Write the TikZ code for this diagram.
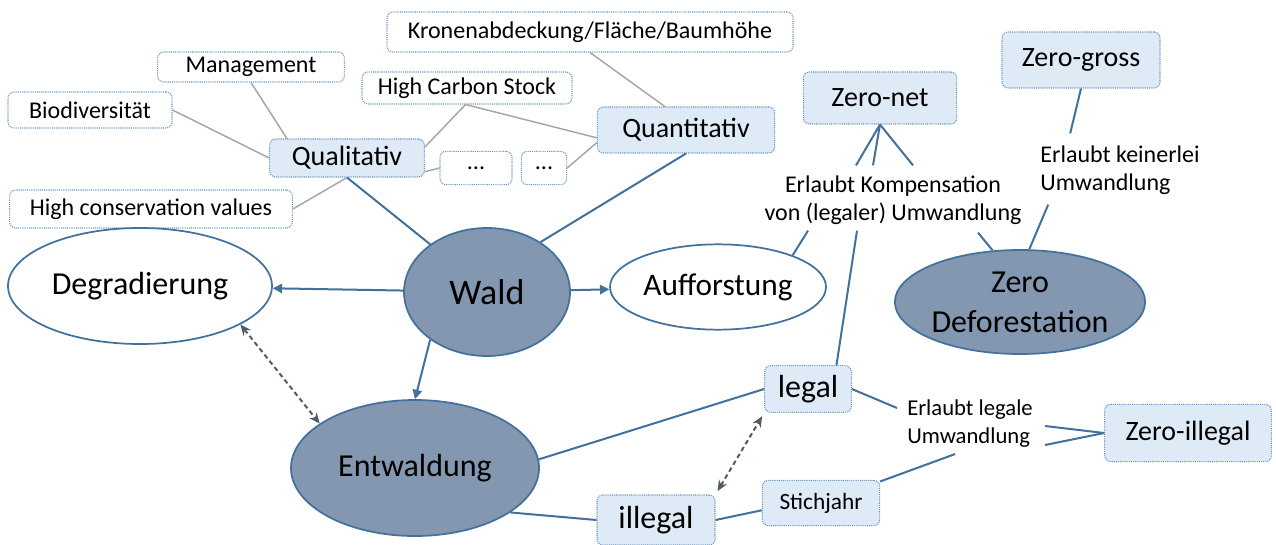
\documentclass[tikz,border=0pt]{standalone}
\usepackage{fontspec}
\setmainfont{Carlito}
\usetikzlibrary{arrows.meta,shapes.geometric,calc}
\definecolor{edgeblue}{HTML}{41719C}
\definecolor{darkfill}{HTML}{8497B0}
\definecolor{lightfill}{HTML}{DEEBF7}
\definecolor{dotblue}{HTML}{6A93C0}
\definecolor{graylink}{HTML}{A6A6A6}
\definecolor{dashgray}{HTML}{505A66}
\tikzset{
  box/.style={draw=dotblue, line width=0.8pt, dash pattern=on 0.8pt off 0.8pt, rounded corners=4.5pt,
    fill=white, inner sep=0pt, text=black, font=\fontsize{18}{21}\selectfont},
  bluebox/.style={box, fill=lightfill, font=\fontsize{21}{24}\selectfont},
  darkell/.style={ellipse, draw=edgeblue, line width=1.3pt, fill=darkfill, inner sep=0pt, align=center,
    font=\fontsize{24}{30}\selectfont},
  whiteell/.style={darkell, fill=white},
  link/.style={draw=edgeblue, line width=1.5pt},
  glink/.style={draw=graylink, line width=1.1pt},
  arr/.style={link, -{Triangle[length=7pt,width=7pt]}},
  darr/.style={draw=dashgray, line width=1.5pt, dash pattern=on 3.5pt off 2.5pt,
    {Stealth[length=8pt,width=7pt]}-{Stealth[length=8pt,width=7pt]}},
  note/.style={fill=white, inner sep=0pt, font=\fontsize{18}{21}\selectfont},
}
\begin{document}
\begin{tikzpicture}[x=0.75pt,y=-0.75pt]
\useasboundingbox[fill=white] (0,0) rectangle (1276,545);

% small white boxes
\node[box, minimum width=304.5pt, minimum height=30pt] (krone) at (590,32) {Kronenabdeckung/Fläche/Baumhöhe};
\node[box, minimum width=140pt, minimum height=22.5pt] (mgmt) at (251,67) {Management};
\node[box, minimum width=123pt, minimum height=27pt] (bio) at (90,110) {Biodiversität};
\node[box, minimum width=157.5pt, minimum height=24pt] (hcs) at (467,88) {High Carbon Stock};
\node[box, minimum width=212pt, minimum height=28.5pt] (hcv) at (151,209) {High conservation values};
\node[box, minimum width=54pt, minimum height=25pt] (dotsa) at (476,168) {...};
\node[box, minimum width=34pt, minimum height=25pt] (dotsb) at (544,168) {...};

% blue boxes
\node[bluebox, minimum width=116pt, minimum height=28.5pt] (qual) at (347,158) {Qualitativ};
\node[bluebox, minimum width=133pt, minimum height=34.5pt] (quant) at (686,130) {Quantitativ};
\node[bluebox, minimum width=115pt, minimum height=39pt] (zeronet) at (880,98) {Zero-net};
\node[bluebox, minimum width=118.5pt, minimum height=42pt] (zerogross) at (1081,60) {Zero-gross};
\node[bluebox, minimum width=65pt, minimum height=35pt, font=\fontsize{24}{28}\selectfont] (legal) at (808,389) {legal};
\node[bluebox, minimum width=88.5pt, minimum height=37.5pt, font=\fontsize{24}{28}\selectfont] (illegal) at (656,520) {illegal};
\node[bluebox, minimum width=88pt, minimum height=34pt, font=\fontsize{17.5}{21}\selectfont] (stich) at (821,503) {Stichjahr};
\node[bluebox, minimum width=125pt, minimum height=43pt] (zeroill) at (1188,433) {Zero-illegal};

% ellipses
\node[darkell, minimum width=124.5pt, minimum height=96pt, font=\fontsize{27}{30}\selectfont] (wald) at (487,292) {Wald};
\node[whiteell, minimum width=198pt, minimum height=87pt] (degr) at (140,286) {Degradierung};
\node[whiteell, minimum width=162pt, minimum height=64pt, font=\fontsize{23.5}{28}\selectfont] (auff) at (718,287) {Aufforstung};
\node[darkell, minimum width=186pt, minimum height=102pt] (entw) at (415,468) {Entwaldung};
\node[darkell, minimum width=162pt, minimum height=78pt] (zerodef) at (1020,302) {Zero\\Deforestation};

% text notes
\node[note, align=center] (komp) at (893,200) {Erlaubt Kompensation\\von (legaler) Umwandlung};
\node[note, align=left] (keiner) at (1120,170) {Erlaubt keinerlei\\Umwandlung};
\node[note, align=left, font=\fontsize{17}{21}\selectfont] (legaleu) at (970,424) {Erlaubt legale\\Umwandlung};

% gray links
\draw[glink] (bio.east) -- (qual.west);
\draw[glink] (mgmt.south) -- (qual.162);
\draw[glink] (hcv.east) -- (qual.south);
\draw[glink] (hcs.265) -- (qual.8);
\draw[glink] (hcs.265) -- (quant.185);
\draw[glink] (qual.-10) -- (dotsa.west);
\draw[glink] (dotsb.east) -- (quant.188);
\draw[glink] (krone.south) -- (quant.132);

% blue links
\draw[link] (qual.south) -- (wald.140);
\draw[link] (quant.south) -- (wald.43);
\draw[arr] (wald) -- (degr);
\draw[arr] (wald) -- (auff);
\draw[arr] (wald.220) -- (entw.north);
\draw[darr] (degr.-21) -- (entw.155);
\draw[link] (entw.4) -- (legal.west);
\draw[link] (entw.-25) -- (illegal.west);
\draw[darr, shorten <=3pt, shorten >=3pt] (illegal.north east) -- (legal.south west);
\draw[link] (illegal.east) -- (stich.187);
\draw[link] (stich.20) -- ($(legaleu.south)+(-15,6)$);
\draw[link] (legal.east) -- ($(legaleu.west)+(-10,-16)$);
\draw[link] ($(legaleu.east)+(12,2)$) -- (zeroill.west);
\draw[link] ($(legaleu.east)+(12,21)$) -- (zeroill.west);
\draw[link] (legal.40) -- ($(komp.south)+(-36,6)$);
\draw[link] ($(komp.north)+(-37,-10)$) -- (zeronet.south);
\draw[link] ($(komp.north)+(-20,-10)$) -- (zeronet.south);
\draw[link] ($(komp.north)+(20,-10)$) -- (zeronet.south);
\draw[link] (auff.23) -- ($(komp.south)+(-85,6)$);
\draw[link] (zerodef.118) -- ($(komp.south)+(85,8)$);
\draw[link] (zerogross.south) -- ($(keiner.north west)+(30,-12)$);
\draw[link] ($(keiner.south west)+(8,10)$) -- (zerodef.80);
\end{tikzpicture}
\end{document}
